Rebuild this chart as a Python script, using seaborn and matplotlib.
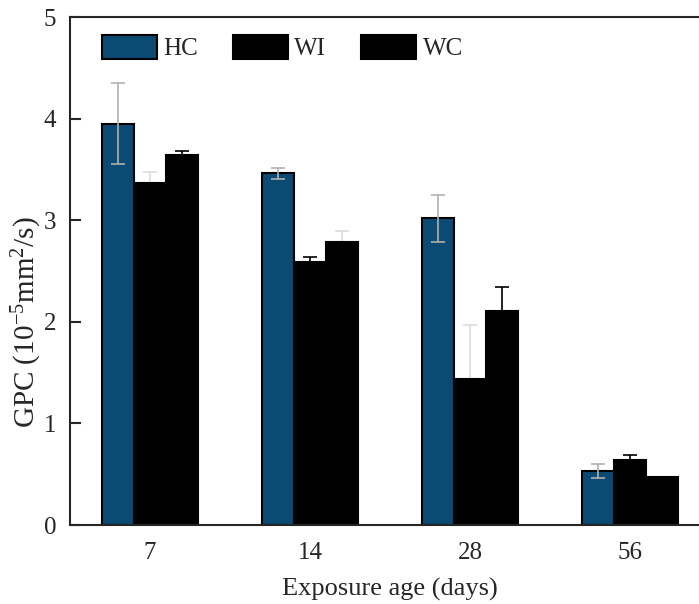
import pandas as pd
import matplotlib
matplotlib.use("Agg")
import matplotlib.pyplot as plt
import seaborn as sns

# data
ages = ["7", "14", "28", "56"]
series = ["HC", "WI", "WC"]
hc_vals = [3.95, 3.46, 3.02, 0.53]
wi_vals = [3.37, 2.59, 1.44, 0.64]
wc_vals = [3.64, 2.79, 2.11, 0.47]
hc_err = [0.40, 0.05, 0.23, 0.07]
wi_err = [0.10, 0.05, 0.53, 0.05]
wc_err = [0.04, 0.10, 0.23, 0.0]

sns.set_style("ticks")
plt.rcParams['font.family'] = ['Liberation Serif', 'DejaVu Serif']
plt.rcParams['mathtext.default'] = 'regular'

df = pd.DataFrame({
    "age": ages * 3,
    "series": ["HC"] * 4 + ["WI"] * 4 + ["WC"] * 4,
    "gpc": hc_vals + wi_vals + wc_vals,
})
errs = {"HC": hc_err, "WI": wi_err, "WC": wc_err}
# error bar colours per bar (some are faint in the original)
faint = "#dcdcdc"
err_cols = {
    "HC": ["#b0b0b0"] * 4,
    "WI": [faint, "black", faint, "black"],
    "WC": ["black", faint, "black", "black"],
}
palette = {"HC": "#0b4a72", "WI": "black", "WC": "black"}

fig = plt.figure(figsize=(6.99, 6.04), dpi=100)
ax = fig.add_axes([70 / 699, 79 / 604, 640 / 699, 508 / 604])

sns.barplot(data=df, x="age", y="gpc", hue="series", order=ages,
            hue_order=series, palette=palette, width=0.6, errorbar=None,
            edgecolor="black", linewidth=1.5, saturation=1, ax=ax)

# error bars at bar centres; faint ones sit behind the bars
for cont, s in zip(ax.containers, series):
    for i, bar in enumerate(cont):
        e = errs[s][i]
        if e <= 0:
            continue
        col = err_cols[s][i]
        x = bar.get_x() + bar.get_width() / 2
        ax.errorbar(x, bar.get_height(), yerr=e, fmt="none",
                    ecolor=col, elinewidth=1.2, capsize=5, capthick=1.2,
                    zorder=0.5 if col == faint else 3)

ax.set_ylim(0, 5)
ax.set_xlim(-0.5, 3.5)
ax.set_yticks([0, 1, 2, 3, 4, 5])
ax.tick_params(axis="y", direction="in", length=8, width=1.5, labelsize=18, pad=10)
ax.tick_params(axis="x", length=0, labelsize=18, pad=12)
for sp in ax.spines.values():
    sp.set_linewidth(1.5)

ax.set_xlabel("Exposure age (days)", fontsize=19, labelpad=10)
ax.set_ylabel("GPC (10$^{-5}$mm$^{2}$/s)", fontsize=21, va="center")
ax.yaxis.set_label_coords(-0.068, 0.40)

ax.legend(loc="upper left", bbox_to_anchor=(0.05, 0.965), ncol=3,
          frameon=False, fontsize=18, handlelength=2.2, handleheight=1.1,
          handletextpad=0.25, columnspacing=1.4, borderaxespad=0, borderpad=0)

fig.savefig("out.png", dpi=100)
